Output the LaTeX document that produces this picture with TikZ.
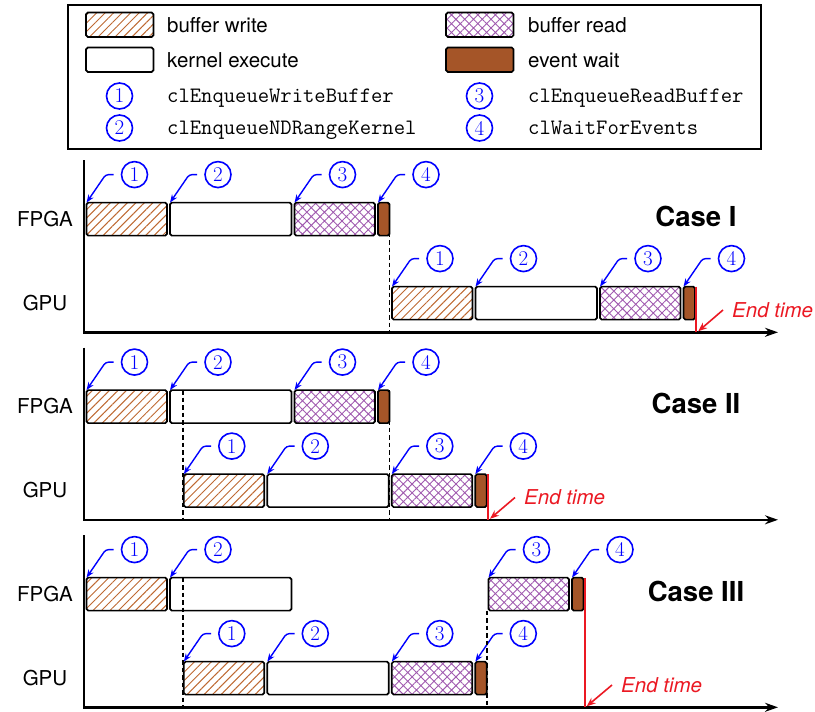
\documentclass[tikz,border=0pt]{standalone}
\usepackage{fontspec}
\newfontfamily\sans{TeX Gyre Heros}
\usetikzlibrary{patterns.meta,arrows.meta,calc}

\definecolor{wbrown}{RGB}{190,105,50}
\definecolor{rpurple}{RGB}{160,90,175}
\definecolor{waitfill}{RGB}{165,85,40}
\definecolor{endred}{RGB}{235,25,35}
\definecolor{callblue}{RGB}{0,0,255}

\tikzset{
  bar/.style={draw=black, line width=1.7pt, rounded corners=1.8pt, inner sep=0pt,
    outer sep=0pt, minimum height=33pt, anchor=north west},
  wbar/.style={bar, minimum width=80.5pt,
    pattern={Lines[angle=45,distance=6pt,line width=1pt]}, pattern color=wbrown},
  kbar/.style={bar, minimum width=121.5pt, fill=white},
  rbar/.style={bar, minimum width=80.5pt,
    pattern={Hatch[angle=45,distance=6.2pt,line width=0.9pt]}, pattern color=rpurple},
  ebar/.style={bar, minimum width=11.5pt, fill=waitfill},
  legendkey/.style={minimum width=67.5pt, minimum height=24.5pt},
  legendbox/.style={draw=black, line width=1.7pt, inner sep=0pt, outer sep=0pt,
    minimum width=693pt, minimum height=144pt, anchor=north west},
  keytext/.style={anchor=base west, inner sep=0pt, font=\sans\fontsize{20.5}{24}\selectfont},
  apitext/.style={anchor=base west, inner sep=0pt, font=\ttfamily\fontsize{22}{24}\selectfont},
  num/.style={circle, draw=callblue, text=callblue, line width=1.6pt, minimum size=26pt,
    inner sep=0pt, font=\rmfamily\fontsize{21}{21}\selectfont},
  callout/.style={draw=callblue, line width=1.4pt, rounded corners=3pt,
    -{Stealth[length=8pt,width=6pt]}},
  axis/.style={line width=2.5pt, -{Stealth[length=13pt,width=9pt]}},
  guide/.style={line width=1.4pt, dash pattern=on 4.5pt off 3pt},
  endline/.style={draw=endred, line width=2.2pt},
  endarrow/.style={draw=endred, line width=1.6pt, -{Stealth[length=9pt,width=7pt]}},
  endlabel/.style={text=endred, anchor=west, inner sep=0pt,
    font=\sans\itshape\fontsize{20.5}{24}\selectfont},
  rowlabel/.style={inner sep=0pt, font=\sans\fontsize{20.5}{24}\selectfont},
  caselabel/.style={inner sep=0pt, font=\sans\bfseries\fontsize{27.5}{30}\selectfont},
}

% a numbered call-out pointing at the start of a bar
\newcommand\callnum[3]{%
  \node[num] (#1) at ($(#3.north west)+(48,-28)$) {#2};
  \draw[callout] ([xshift=-7pt]#1.west) -- ++(-8,0) -- (#3.north west);
}

% write / kernel / read / wait bars of one device, with their call-outs
\newcommand\fourbars[3]{%
  \node[wbar] (#1w) at (#2,#3) {};
  \node[kbar] (#1k) at (#2+83.5,#3) {};
  \node[rbar] (#1r) at (#2+208,#3) {};
  \node[ebar] (#1e) at (#2+291.5,#3) {};
  \callnum{#1c1}{1}{#1w}
  \callnum{#1c2}{2}{#1k}
  \callnum{#1c3}{3}{#1r}
  \callnum{#1c4}{4}{#1e}
}

\begin{document}
\begin{tikzpicture}[x=1pt,y=-1pt]
\useasboundingbox (0,0) rectangle (815,712);

% ---------------- legend ----------------
\node[legendbox] (legend) at (68,5) {};
\node[wbar, legendkey] (kw) at (86,12.5) {};
\node[keytext] (kwt) at (167,32.5) {buffer write};
\node[kbar, legendkey] (kk) at (86,47.5) {};
\node[keytext] (kkt) at (167,67) {kernel execute};
\node[rbar, legendkey] (kr) at (446,12.5) {};
\node[keytext] (krt) at (528,32.5) {buffer read};
\node[ebar, legendkey] (ke) at (446,47.5) {};
\node[keytext] (ket) at (528,67) {event wait};
\node[num] (k1) at (119.5,96) {1};
\node[apitext] (k1t) at (167,102) {clEnqueueWriteBuffer};
\node[num] (k2) at (119.5,128) {2};
\node[apitext] (k2t) at (167,134) {clEnqueueNDRangeKernel};
\node[num] (k3) at (479.5,96) {3};
\node[apitext] (k3t) at (528,102) {clEnqueueReadBuffer};
\node[num] (k4) at (479.5,128) {4};
\node[apitext] (k4t) at (528,134) {clWaitForEvents};

% ---------------- Case I ----------------
\coordinate (t1) at (84,160);
\coordinate (o1) at (84,332.3);
\coordinate (x1) at (778,332.3);
\draw[axis] (t1) -- (o1) -- (x1);
\node[rowlabel] (fl1) at (45,219) {FPGA};
\node[rowlabel] (gl1) at (45,303) {GPU};
\node[caselabel] (case1) at (696,216) {Case I};
\fourbars{Af}{86.5}{202.6}
\fourbars{Ag}{392}{286.6}
\draw[guide] (Afe.north east) -- (Afe.north east |- o1);
\coordinate (rt1) at ([xshift=1.2pt]Age.north east);
\coordinate (rb1) at (rt1 |- o1);
\draw[endline] (rt1) -- (rb1);
\node[endlabel] (end1) at (732,310) {End time};
\draw[endarrow] ([xshift=-9pt]end1.west) -- ([shift={(2,-1)}]rb1);

% ---------------- Case II ----------------
\coordinate (t2) at (84,347.5);
\coordinate (o2) at (84,519.8);
\coordinate (x2) at (778,519.8);
\draw[axis] (t2) -- (o2) -- (x2);
\node[rowlabel] (fl2) at (45,406.5) {FPGA};
\node[rowlabel] (gl2) at (45,490.5) {GPU};
\node[caselabel] (case2) at (696,403.5) {Case II};
\fourbars{Bf}{86.5}{390.1}
\fourbars{Bg}{183.8}{474.1}
\draw[guide] ([xshift=-1pt]Bgw.west |- Bfk.north) -- ([xshift=-1pt]Bgw.west |- o2);
\draw[guide] (Bfe.north east) -- (Bfe.north east |- o2);
\coordinate (rt2) at ([xshift=1.2pt]Bge.north east);
\coordinate (rb2) at (rt2 |- o2);
\draw[endline] (rt2) -- (rb2);
\node[endlabel] (end2) at (524,497.5) {End time};
\draw[endarrow] ([xshift=-9pt]end2.west) -- ([shift={(2,-1)}]rb2);

% ---------------- Case III ----------------
\coordinate (t3) at (84,535);
\coordinate (o3) at (84,707.3);
\coordinate (x3) at (778,707.3);
\draw[axis] (t3) -- (o3) -- (x3);
\node[rowlabel] (fl3) at (45,594) {FPGA};
\node[rowlabel] (gl3) at (45,678) {GPU};
\node[caselabel] (case3) at (696,591) {Case III};
\node[wbar] (Cfw) at (86.5,577.6) {};
\node[kbar] (Cfk) at (170,577.6) {};
\node[rbar] (Cfr) at (488.5,577.6) {};
\node[ebar] (Cfe) at (572,577.6) {};
\callnum{Cfc1}{1}{Cfw}
\callnum{Cfc2}{2}{Cfk}
\callnum{Cfc3}{3}{Cfr}
\callnum{Cfc4}{4}{Cfe}
\fourbars{Cg}{183.8}{661.6}
\draw[guide] ([xshift=-1pt]Cgw.west |- Cfk.north) -- ([xshift=-1pt]Cgw.west |- o3);
\draw[guide] (Cge.north east |- Cfr.south) -- (Cge.north east |- o3);
\coordinate (rt3) at ([xshift=1.2pt]Cfe.north east);
\coordinate (rb3) at (rt3 |- o3);
\draw[endline] (rt3) -- (rb3);
\node[endlabel] (end3) at (621,685) {End time};
\draw[endarrow] ([xshift=-9pt]end3.west) -- ([shift={(2,-1)}]rb3);
\end{tikzpicture}
\end{document}
